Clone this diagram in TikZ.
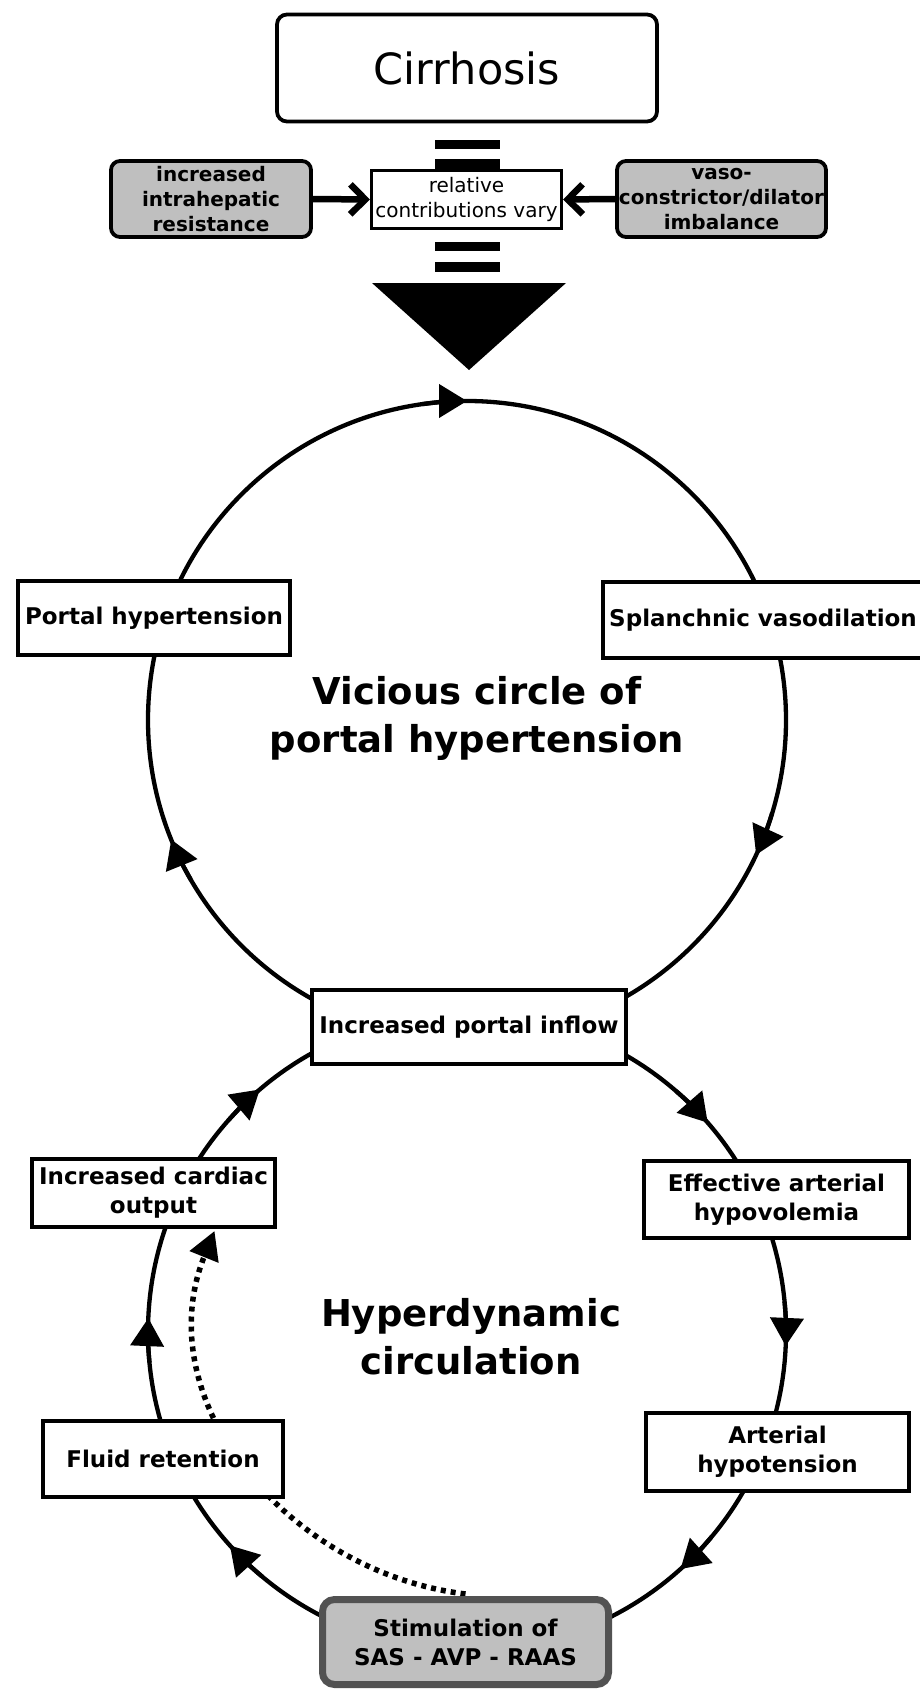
\documentclass[tikz,border=0pt]{standalone}
\usepackage{fontspec}
\setmainfont{DejaVu Sans}
\usetikzlibrary{arrows.meta,calc}
\pgfdeclarelayer{background}
\pgfsetlayers{background,main}
\begin{document}
\begin{tikzpicture}[x=1pt,y=-1pt,
  box/.style={draw, line width=4pt, fill=white, inner sep=0pt, align=center,
    font=\fontsize{23}{29}\selectfont\bfseries},
  graybox/.style={draw, line width=3.8pt, fill=black!25, rounded corners=9pt,
    inner sep=0pt, align=center, font=\fontsize{20}{25}\selectfont\bfseries},
  stimbox/.style={draw=black!68, line width=7pt, fill=black!25, rounded corners=12pt,
    inner sep=0pt, align=center, font=\fontsize{23}{29}\selectfont\bfseries},
  ring/.style={line width=4.3pt},
  head/.style={-{Triangle[length=28pt,width=33pt]}, line width=4.3pt},
  sidearrow/.style={line width=6.5pt, -{Straight Barb[length=15pt,width=30pt]}},
  dotarrow/.style={line width=5.5pt, dash pattern=on 5pt off 5pt, -{Triangle[length=28pt,width=30pt]}},
  biglabel/.style={align=center, font=\fontsize{37}{48}\selectfont\bfseries},
  ]
\useasboundingbox (0,0) rectangle (920,1691);

% top part
\node[draw, line width=3.8pt, rounded corners=10pt, minimum width=380pt, minimum height=107pt,
  inner sep=0pt, font=\fontsize{43}{50}\selectfont] (cirr) at (467,68) {Cirrhosis};
\node[draw, line width=3.2pt, fill=white, inner sep=0pt, minimum width=190pt, minimum height=58pt,
  align=center, font=\fontsize{20}{25}\selectfont] (rel) at (466.5,199.5) {relative\\contributions vary};
\node[graybox, minimum width=200pt, minimum height=76pt] (lg) at (211,199)
  {increased\\intrahepatic\\resistance};
\node[graybox, minimum width=209pt, minimum height=76pt] (rg) at (721.5,199)
  {vaso-\\constrictor/dilator\\imbalance};
\draw[sidearrow] (lg.east) -- (rel.west);
\draw[sidearrow] (rg.west) -- (rel.east);

\fill (435,140) rectangle (500,149);
\fill (435,159) rectangle (500,169);
\fill (435,242) rectangle (500,251);
\fill (435,262) rectangle (500,272);
\fill (372,283) -- (566,283) -- (469,370) -- cycle;

% circle centres
\coordinate (cu) at (467,720);
\coordinate (cl) at (467,1332);

% boxes on the circles
\node[box, minimum width=272pt, minimum height=74pt] (ph) at (154,618) {Portal hypertension};
\node[box, minimum width=320pt, minimum height=76pt] (sv) at (763,620) {Splanchnic vasodilation};
\node[box, minimum width=314pt, minimum height=74pt] (pi) at (469,1027) {Increased portal inflow};
\node[box, minimum width=265pt, minimum height=77pt] (eah) at (776.5,1199.5) {Effective arterial\\hypovolemia};
\node[box, minimum width=263pt, minimum height=78pt] (ah) at (777.5,1452) {Arterial\\hypotension};
\node[stimbox, minimum width=286pt, minimum height=85pt] (sas) at (465.5,1642) {Stimulation of\\SAS - AVP - RAAS};
\node[box, minimum width=240pt, minimum height=76pt] (fr) at (163,1459) {Fluid retention};
\node[box, minimum width=243pt, minimum height=68pt] (ico) at (153.5,1193) {Increased cardiac\\output};

\node[biglabel] (vc) at (477,718) {Vicious circle of\\portal hypertension};
\node[biglabel] (hd) at (471,1337) {Hyperdynamic\\circulation};

\begin{pgfonlayer}{background}
  \draw[ring] (cu) circle[radius=319];
  \draw[ring] (cl) circle[radius=319];
  \draw[dotarrow] ($(sas.north)+(0,-2)$) to[out=173,in=248,looseness=1.05] ($(ico.south)+(61,2)$);
\end{pgfonlayer}

% arrowheads on the upper circle (angles measured clockwise on screen)
\foreach \a in {-90,25,158}{
  \draw[head] ($(cu)+(\a-8:319)$) arc[start angle=\a-8, end angle=\a, radius=319];
}
% arrowheads on the lower circle
\foreach \a in {-41,2.5,48,138,182.5,229.5}{
  \draw[head] ($(cl)+(\a-8:319)$) arc[start angle=\a-8, end angle=\a, radius=319];
}
\end{tikzpicture}
\end{document}
